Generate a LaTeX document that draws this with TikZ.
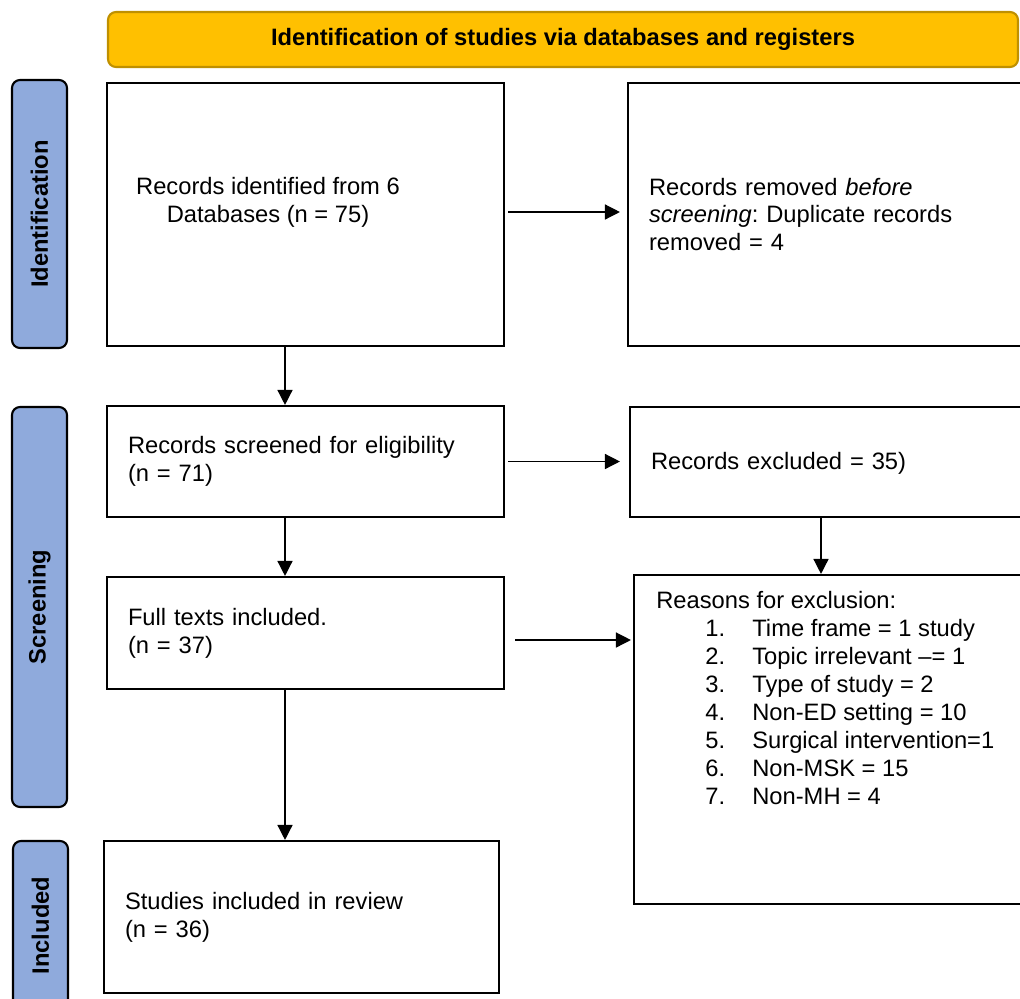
\documentclass[tikz,border=0pt]{standalone}
\usepackage{fontspec}
\setmainfont{Liberation Sans}
\usetikzlibrary{arrows.meta}
\newdimen\pxu \pxu=0.02cm
\newcommand\fs{\fontsize{13.5pt}{15.9pt}\selectfont\frenchspacing}
\definecolor{bannerfill}{HTML}{FFC000}
\definecolor{bannerline}{HTML}{BF9000}
\definecolor{sidefill}{HTML}{8FAADC}
\begin{document}
\begin{tikzpicture}[x=0.02cm, y=-0.02cm, every node/.style={font=\fs},
  banner/.style={draw=bannerline, fill=bannerfill, line width=1.2pt, rounded corners=8\pxu, font=\fs\bfseries},
  side/.style={draw, fill=sidefill, line width=1.2pt, rounded corners=8\pxu, rotate=90, minimum height=55\pxu, inner sep=0pt, font=\fs\bfseries},
  box/.style={draw, line width=1.2pt, inner xsep=21\pxu, inner ysep=0pt, align=left},
  arr/.style={line width=0.8pt, -{Triangle[length=0.3cm, width=0.3cm]}}]
\useasboundingbox (0,0) rectangle (1020,998);
\node[banner, minimum width=910\pxu, minimum height=55\pxu] (T1) at (563,39.5) {Identification of studies via databases and registers};
\node[side, minimum width=268\pxu] (L1) at (39.5,214) {Identification};
\node[side, minimum width=400\pxu] (L2) at (39.5,607) {Screening};
\node[side, minimum width=169\pxu] (L3) at (40.5,925.5) {Included};
\node[box, minimum height=263\pxu, text width=355\pxu] (ID1) at (305.5,214.5) {};
\node[align=center] (ID1t) at (268,202) {Records identified from 6\\Databases (n = 75)};
\node[box, minimum height=263\pxu, text width=370\pxu] (ID2) at (834,214.5) {Records removed \textit{before}\\\textit{screening}: Duplicate records\\removed = 4};
\node[box, minimum height=111\pxu, text width=355\pxu] (SC1) at (305.5,461.5) {\rule{0pt}{15\pxu}Records screened for eligibility\\(n = 71)};
\node[box, minimum height=110\pxu, text width=368\pxu] (SC2) at (835,462) {\rule{0pt}{20\pxu}Records excluded = 35)};
\node[box, minimum height=112\pxu, text width=355\pxu] (SC3) at (305.5,633) {\rule{0pt}{15\pxu}Full texts included.\\(n = 37)};
\node[box, minimum height=329\pxu, text width=364\pxu] (SC4) at (837,739.5) {};
\node[anchor=north west, inner sep=0pt, align=left] (SC4t) at (656,591) {Reasons for exclusion:\\
  \hspace*{49\pxu}\makebox[47\pxu][l]{1.}Time frame = 1 study\\
  \hspace*{49\pxu}\makebox[47\pxu][l]{2.}Topic irrelevant \textendash= 1\\
  \hspace*{49\pxu}\makebox[47\pxu][l]{3.}Type of study = 2\\
  \hspace*{49\pxu}\makebox[47\pxu][l]{4.}Non-ED setting = 10\\
  \hspace*{49\pxu}\makebox[47\pxu][l]{5.}Surgical intervention=1\\
  \hspace*{49\pxu}\makebox[47\pxu][l]{6.}Non-MSK = 15\\
  \hspace*{49\pxu}\makebox[47\pxu][l]{7.}Non-MH = 4};
\node[box, minimum height=152\pxu, text width=353\pxu] (IN1) at (301.5,917) {\rule{0pt}{15\pxu}Studies included in review\\(n = 36)};
\coordinate (X1) at (285,0);
\coordinate (X2) at (821,0);
\draw[arr] (ID1.south -| X1) -- (SC1.north -| X1);
\draw[arr, shorten <=3\pxu, shorten >=7\pxu] ([yshift=2.5\pxu]ID1.east) -- ([yshift=2.5\pxu]ID2.west);
\draw[arr, shorten <=3\pxu, shorten >=9\pxu] (SC1.east) -- (SC1.east -| SC2.west);
\draw[arr] (SC1.south -| X1) -- (SC3.north -| X1);
\draw[arr] (SC2.south -| X2) -- (SC4.north -| X2);
\draw[arr, shorten <=10\pxu, shorten >=2\pxu] ([yshift=-7\pxu]SC3.east) -- ([yshift=-7\pxu]SC3.east -| SC4.west);
\draw[arr] (SC3.south -| X1) -- (IN1.north -| X1);
\end{tikzpicture}
\end{document}
